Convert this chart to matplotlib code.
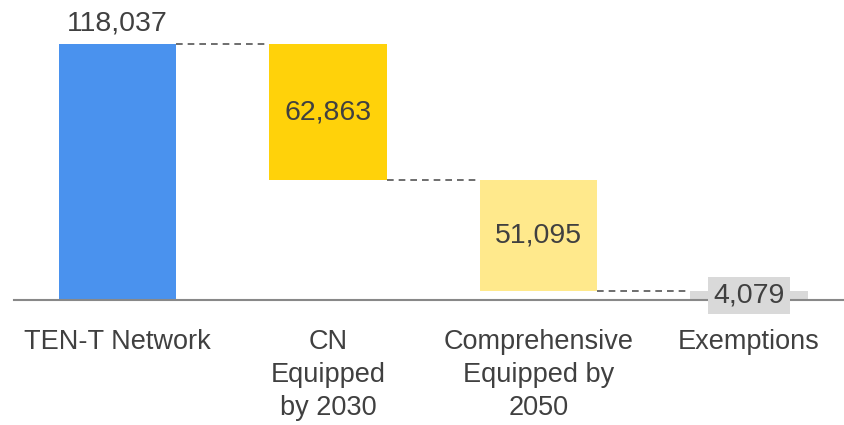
import matplotlib.pyplot as plt

plt.rcParams['font.family'] = ['Liberation Sans', 'DejaVu Sans']

categories = ['TEN-T Network', 'CN\nEquipped\nby 2030', 'Comprehensive\nEquipped by\n2050', 'Exemptions']
values = [118037, -62863, -51095, -4079]
labels = ['118,037', '62,863', '51,095', '4,079']
colors = ['#4A92EE', '#FFD20A', '#FFE98C', '#D9D9D9']

# running totals -> bar bottoms / tops
bottoms = []
tops = []
total = 0
for v in values:
    start = total
    total = total + v
    bottoms.append(min(start, total))
    tops.append(max(start, total))
# last bar (exemptions) drops down to zero
ends = [tops[0], bottoms[1], bottoms[2], 0]

fig = plt.figure(figsize=(8.44, 4.25), dpi=100)
ax = fig.add_axes([14 / 844, 1 - 300 / 425, 830 / 844, 300 / 425])

w = 0.56
x = list(range(len(categories)))
for i in x:
    ax.bar(i, tops[i] - bottoms[i], bottom=bottoms[i], width=w, color=colors[i], zorder=2)

# dashed connectors between bars
for i in range(len(x) - 1):
    ax.plot([i + w / 2, i + 1 - w / 2], [ends[i], ends[i]], color='#555555',
            linestyle=(0, (4, 3)), linewidth=1.2, zorder=1)

txt = '#404040'
fs = 20.5
ax.text(0, tops[0] + 3500, labels[0], ha='center', va='bottom', fontsize=fs, color=txt)
ax.text(1, (tops[1] + bottoms[1]) / 2, labels[1], ha='center', va='center', fontsize=fs, color=txt)
ax.text(2, (tops[2] + bottoms[2]) / 2, labels[2], ha='center', va='center', fontsize=fs, color=txt)
ax.text(3, (tops[3] + bottoms[3]) / 2, labels[3], ha='center', va='center', fontsize=fs, color=txt,
        bbox=dict(boxstyle='square,pad=0.2', facecolor='#D9D9D9', edgecolor='none'), zorder=4)

ax.set_xlim(-0.4917, 3.451)
ax.set_ylim(0, 118037 * 300 / 256)
ax.set_xticks(x)
ax.set_xticklabels(categories, fontsize=19.5, color=txt, linespacing=1.34)
ax.tick_params(axis='x', length=0, pad=21)
ax.set_yticks([])
for s in ['top', 'right', 'left']:
    ax.spines[s].set_visible(False)
ax.spines['bottom'].set_color('#888888')
ax.spines['bottom'].set_linewidth(1.5)
ax.spines['bottom'].set_zorder(3)

fig.savefig('out.png', dpi=100)
